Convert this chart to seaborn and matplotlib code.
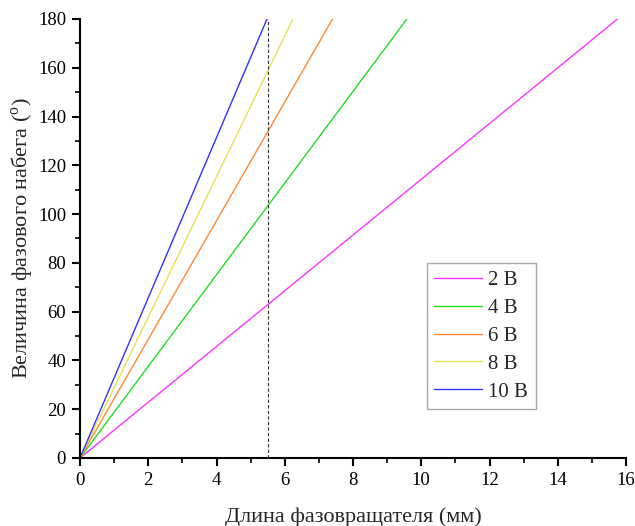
import matplotlib
matplotlib.use("Agg")
import matplotlib.pyplot as plt
import seaborn as sns
import pandas as pd
from matplotlib.ticker import MultipleLocator

labels = ["2 В", "4 В", "6 В", "8 В", "10 В"]
x_end = [15.75, 9.58, 7.4, 6.24, 5.48]
y_end = [180, 180, 180, 180, 180]
colors = ["#ff33ff", "#22dd22", "#ff8833", "#e8e055", "#3333ff"]
dash_x = 5.5

rows = []
for lab, xe, ye in zip(labels, x_end, y_end):
    rows.append({"x": 0.0, "y": 0.0, "s": lab})
    rows.append({"x": xe, "y": ye, "s": lab})
df = pd.DataFrame(rows)

sns.set_theme(style="ticks")
plt.rcParams["font.family"] = ["Liberation Serif", "DejaVu Serif"]
plt.rcParams["mathtext.fontset"] = "custom"
plt.rcParams["mathtext.rm"] = "Liberation Serif"

fig = plt.figure(figsize=(6.35, 5.26), dpi=100)
ax = fig.add_axes([80 / 635, 68 / 526, 546 / 635, 439 / 526])

sns.lineplot(data=df, x="x", y="y", hue="s", palette=colors, hue_order=labels,
             ax=ax, linewidth=1.0, sort=False, estimator=None)
ax.plot([dash_x, dash_x], [0, 180], color="#333333", linestyle=(0, (3, 2)), linewidth=0.8)

ax.set_xlim(0, 16)
ax.set_ylim(0, 180)
ax.xaxis.set_major_locator(MultipleLocator(2))
ax.xaxis.set_minor_locator(MultipleLocator(1))
ax.yaxis.set_major_locator(MultipleLocator(20))
ax.yaxis.set_minor_locator(MultipleLocator(10))
for s in ["top", "right"]:
    ax.spines[s].set_visible(False)
for s in ["left", "bottom"]:
    ax.spines[s].set_linewidth(1.5)
    ax.spines[s].set_color("black")
ax.tick_params(which="major", direction="out", length=6, width=1.5, labelsize=13.5, colors="black", pad=4)
ax.tick_params(which="minor", direction="out", length=3.5, width=1.2, colors="black")
ax.set_xlabel("Длина фазовращателя (мм)", fontsize=16, labelpad=13)
ax.set_ylabel("Величина фазового набега ($^{\\mathrm{o}}$)", fontsize=16, labelpad=2)

leg = ax.legend(loc="upper left", bbox_to_anchor=(0.6355, 0.444), fontsize=15,
                frameon=True, fancybox=False, edgecolor="#aaaaaa", framealpha=1,
                handlelength=2.3, handletextpad=0.3, labelspacing=0.4, borderpad=0.35,
                borderaxespad=0)
leg.get_frame().set_linewidth(1.0)

fig.savefig("out.png", dpi=100)
